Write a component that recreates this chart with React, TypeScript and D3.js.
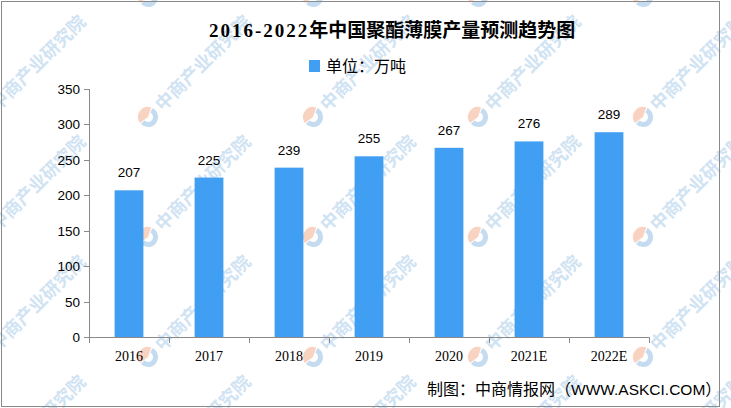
import React from "react";
import * as d3 from "d3";

const categories = ["2016", "2017", "2018", "2019", "2020", "2021E", "2022E"];
const values = [207, 225, 239, 255, 267, 276, 289];
const yTicks = [0, 50, 100, 150, 200, 250, 300, 350];
const titleYears = "2016-2022";
const titleRest = "年中国聚酯薄膜产量预测趋势图";
const legendLabel = "单位：万吨";
const sourcePrefix = "制图：中商情报网（";
const sourceSite = "WWW.ASKCI.COM";
const sourceSuffix = "）";
const watermarkText = "中商产业研究院";
const wmCols = [-17, 148, 313, 478, 643];
const wmRows = [-3, 117, 237, 357, 477];

const W = 731;
const H = 408;
const BAR = "#409ef3";
const AXIS = "#8a8a8a";

export default function App() {
  const x = d3.scaleBand<string>().domain(categories).range([89, 649]).padding(0);
  const y = d3.scaleLinear().domain([0, 350]).range([337, 89]);
  const bw = x.bandwidth() * 0.36;
  const sans = "'Liberation Sans', Arial, 'Noto Sans CJK SC', sans-serif";
  const serif = "'Liberation Serif', 'Noto Sans CJK SC', serif";
  const cjk = "'Noto Sans CJK SC', sans-serif";

  const marks: [number, number][] = [];
  wmCols.forEach((cx) => wmRows.forEach((cy) => marks.push([cx, cy])));

  return (
    <svg width={W} height={H} style={{ position: "absolute", left: 0, top: 0, display: "block" }}>
      <rect x={0} y={0} width={W} height={H} fill="#fff" />
      {/* watermarks */}
      <g>
        {marks.map(([cx, cy], i) => (
          <g key={i} transform={`translate(${cx},${cy})`}>
            <path
              d={d3.arc()({ innerRadius: 5, outerRadius: 10, startAngle: Math.PI * 0.15, endAngle: Math.PI * 1.25 }) || ""}
              fill="#c4dbf0"
            />
            <path
              d={d3.arc()({ innerRadius: 0, outerRadius: 10, startAngle: -Math.PI * 0.7, endAngle: Math.PI * 0.1 }) || ""}
              fill="#f9d3c1"
            />
            <g transform="rotate(-45)">
              <text x={14} y={7} fontFamily={cjk} fontWeight={700} fontSize={18} fill="#d0e3f3">
                {watermarkText}
              </text>
            </g>
          </g>
        ))}
      </g>
      <rect x={1.5} y={1.5} width={718} height={405} fill="none" stroke={AXIS} strokeWidth={1} />
      {/* title */}
      <text x={209} y={37} fontFamily={serif} fontWeight={700} fontSize={19} fill="#000">
        <tspan letterSpacing={2}>{titleYears}</tspan>
        <tspan>{titleRest}</tspan>
      </text>
      {/* legend */}
      <rect x={309} y={60} width={11} height={12} fill={BAR} />
      <text x={326} y={72} fontFamily={cjk} fontSize={16} fill="#000">
        {legendLabel}
      </text>
      {/* bars */}
      {categories.map((c, i) => {
        const cx = (x(c) as number) + x.bandwidth() / 2;
        return (
          <g key={c}>
            <rect x={cx - bw / 2} y={y(values[i])} width={bw} height={y(0) - y(values[i])} fill={BAR} />
            <text x={cx} y={y(values[i]) - 13} textAnchor="middle" fontFamily={sans} fontSize={13.5} fill="#000">
              {values[i]}
            </text>
            <text x={cx} y={361} textAnchor="middle" fontFamily={serif} fontSize={14} fill="#000">
              {c}
            </text>
          </g>
        );
      })}
      {/* y axis */}
      <line x1={89.5} x2={89.5} y1={y(350)} y2={y(0)} stroke={AXIS} />
      {yTicks.map((t) => (
        <g key={t}>
          <line x1={84} x2={89.5} y1={Math.round(y(t)) + 0.5} y2={Math.round(y(t)) + 0.5} stroke={AXIS} />
          <text x={80} y={y(t) + 5} textAnchor="end" fontFamily={sans} fontSize={13.5} fill="#000">
            {t}
          </text>
        </g>
      ))}
      {/* x axis */}
      <line x1={89} x2={649.5} y1={337.5} y2={337.5} stroke={AXIS} />
      {categories.concat(["end"]).map((c, i) => {
        const tx = Math.round(89 + i * x.bandwidth()) + 0.5;
        return <line key={c + i} x1={tx} x2={tx} y1={337.5} y2={343} stroke={AXIS} />;
      })}
      {/* source */}
      <text x={427} y={395} fontFamily={cjk} fontSize={16} fill="#000">
        <tspan>{sourcePrefix}</tspan>
        <tspan fontFamily={sans} fontSize={15.5}>{sourceSite}</tspan>
        <tspan>{sourceSuffix}</tspan>
      </text>
    </svg>
  );
}
